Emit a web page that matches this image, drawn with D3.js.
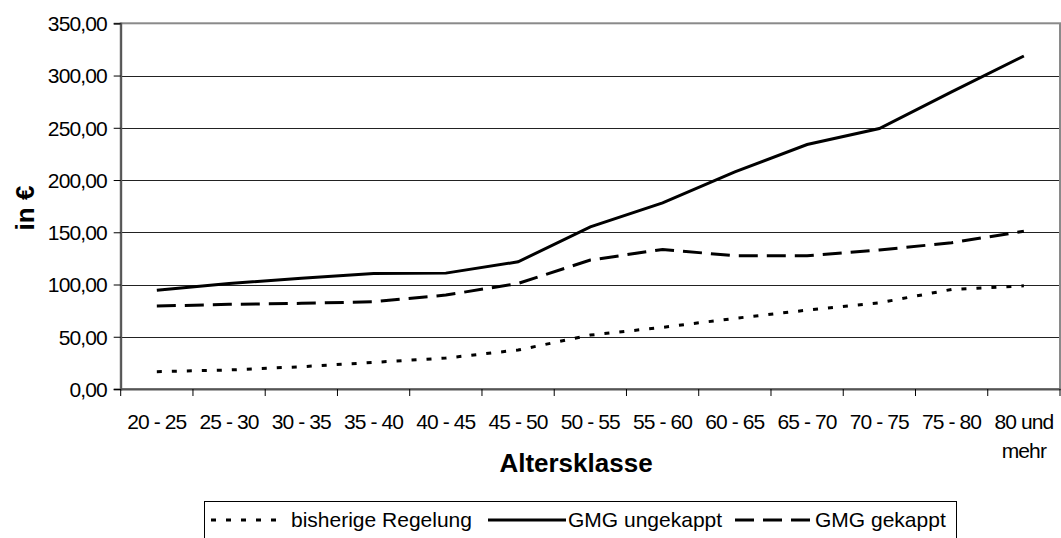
<!DOCTYPE html>
<html>
<head>
<meta charset="utf-8">
<script src="https://cdn.jsdelivr.net/npm/d3@7"></script>
<style>
  body { margin: 0; background: #fff; }
  svg text { font-family: "Liberation Sans", Arial, sans-serif; fill: #000; }
</style>
</head>
<body>
<div id="chart"></div>
<script>
// data
var categories = ["20 - 25", "25 - 30", "30 - 35", "35 - 40", "40 - 45", "45 - 50", "50 - 55",
                  "55 - 60", "60 - 65", "65 - 70", "70 - 75", "75 - 80", "80 und mehr"];
var bisherige = [16.6, 18.2, 21.3, 25.5, 29.6, 37.3, 51.6, 59.0, 67.6, 75.5, 82.5, 95.3, 98.8];
var ungekappt = [94.4, 101.0, 105.9, 110.6, 110.9, 121.7, 155.2, 178.2, 207.8, 234.0, 249.3, 284.3, 318.7];
var gekappt   = [79.4, 81.0, 82.0, 83.5, 89.9, 101.0, 123.4, 133.6, 127.5, 127.5, 133.0, 140.0, 151.0];
var yTicks = [0, 50, 100, 150, 200, 250, 300, 350];
var seriesNames = ["bisherige Regelung", "GMG ungekappt", "GMG gekappt"];

var width = 1061, height = 538;
var plotL = 120.7, plotR = 1060, plotT = 23.3, plotB = 389;

var de = d3.formatLocale({decimal: ",", thousands: ".", grouping: [3], currency: ["", " €"]});
var fmt = de.format(".2f");

var svg = d3.select("#chart").append("svg")
  .attr("width", width)
  .attr("height", height);

var x = d3.scaleBand().domain(categories).range([plotL, plotR]);
var y = d3.scaleLinear().domain([0, 350]).range([plotB, plotT]);

// gridlines
svg.selectAll("line.grid")
  .data(yTicks.slice(1, -1))
  .enter().append("line")
  .attr("class", "grid")
  .attr("x1", plotL).attr("x2", plotR)
  .attr("y1", function(d) { return Math.round(y(d)) + 0.5; })
  .attr("y2", function(d) { return Math.round(y(d)) + 0.5; })
  .attr("stroke", "#222")
  .attr("stroke-width", 1)
  .attr("shape-rendering", "crispEdges");

// plot frame (top/right grey)
svg.append("rect")
  .attr("x", plotL).attr("y", plotT)
  .attr("width", plotR - plotL).attr("height", plotB - plotT)
  .attr("fill", "none")
  .attr("stroke", "#8a8a8a")
  .attr("stroke-width", 2);

// y axis
var yAxis = d3.axisLeft(y).tickValues(yTicks).tickFormat(fmt).tickSize(7).tickPadding(7);
var gy = svg.append("g").attr("transform", "translate(" + plotL + ",0)").call(yAxis);
gy.select(".domain").attr("stroke", "#555").attr("stroke-width", 2);
gy.selectAll(".tick line").attr("stroke", "#000");
gy.selectAll("text")
  .style("font-size", "21px")
  .style("letter-spacing", "-0.9px")
  .attr("dy", "0.35em");

// x axis: labels at band centers, ticks at band edges
var xAxis = d3.axisBottom(x).tickSize(0).tickPadding(0).tickFormat("");
var gx = svg.append("g").attr("transform", "translate(0," + plotB + ")").call(xAxis);
gx.select(".domain").attr("stroke", "#555").attr("stroke-width", 2);

svg.selectAll("line.xtick")
  .data(categories.concat(["end"]))
  .enter().append("line")
  .attr("class", "xtick")
  .attr("x1", function(d) { return d === "end" ? plotR : x(d); })
  .attr("x2", function(d) { return d === "end" ? plotR : x(d); })
  .attr("y1", plotB).attr("y2", plotB + 7)
  .attr("stroke", "#000");

var xl = svg.selectAll("text.xlab")
  .data(categories)
  .enter().append("text")
  .attr("class", "xlab")
  .attr("text-anchor", "middle")
  .attr("y", 429)
  .style("font-size", "21px")
  .style("letter-spacing", "-0.9px");
xl.each(function(d) {
  var cx = x(d) + x.bandwidth() / 2;
  var lines = d === "80 und mehr" ? ["80 und", "mehr"] : [d];
  var t = d3.select(this);
  lines.forEach(function(s, i) {
    t.append("tspan").attr("x", cx).attr("dy", i === 0 ? 0 : 29).text(s);
  });
});

// axis titles
svg.append("text")
  .attr("x", 576).attr("y", 472)
  .attr("text-anchor", "middle")
  .style("font-size", "26px").style("font-weight", "bold")
  .text("Altersklasse");

svg.append("text")
  .attr("transform", "translate(34,208) rotate(-90)")
  .attr("text-anchor", "middle")
  .style("font-size", "26px").style("font-weight", "bold")
  .text("in €");

// lines
var dashes = ["5,10", null, "19,9"];
var allSeries = [bisherige, ungekappt, gekappt];
var line = d3.line()
  .x(function(d, i) { return x(categories[i]) + x.bandwidth() / 2; })
  .y(function(d) { return y(d); });

svg.selectAll("path.series")
  .data(allSeries)
  .enter().append("path")
  .attr("class", "series")
  .attr("d", line)
  .attr("fill", "none")
  .attr("stroke", "#000")
  .attr("stroke-width", 3)
  .attr("stroke-dasharray", function(d, i) { return dashes[i]; });

// legend
var legX = [211, 488, 735];
var lg = svg.append("g");
lg.append("rect")
  .attr("x", 204.5).attr("y", 501.5)
  .attr("width", 752).attr("height", 60)
  .attr("fill", "#fff").attr("stroke", "#000").attr("stroke-width", 1);

var items = lg.selectAll("g.item")
  .data(seriesNames)
  .enter().append("g")
  .attr("class", "item")
  .attr("transform", function(d, i) { return "translate(" + legX[i] + ",0)"; });

items.append("line")
  .attr("x1", 0).attr("x2", function(d, i) { return i === 0 ? 68 : 78; })
  .attr("y1", 520).attr("y2", 520)
  .attr("stroke", "#000").attr("stroke-width", 3)
  .attr("stroke-dasharray", function(d, i) { return dashes[i]; });

items.append("text")
  .attr("x", 80)
  .attr("y", 527)
  .style("font-size", "21px")
  .text(function(d) { return d; });
</script>
</body>
</html>
